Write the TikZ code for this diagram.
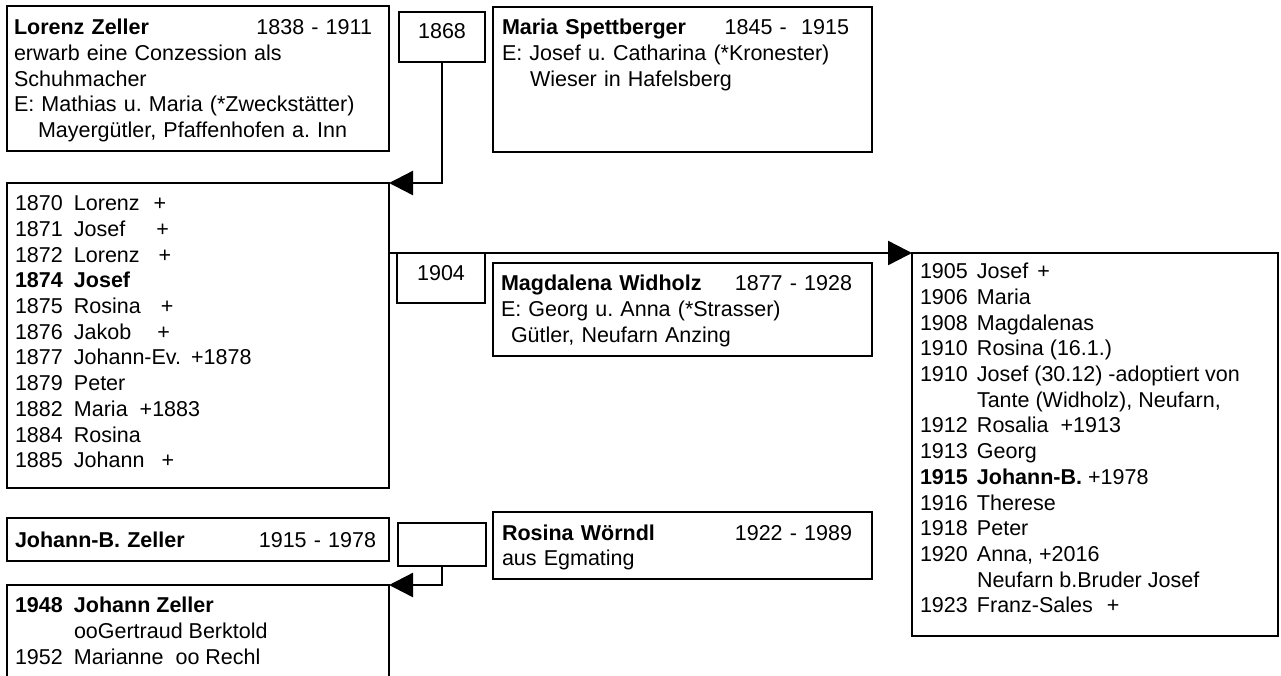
\documentclass[tikz,border=0pt]{standalone}
\usepackage{fontspec}
\setmainfont{Liberation Sans}
\usetikzlibrary{arrows.meta}
\frenchspacing
\newcommand{\yc}[1]{\makebox[59pt][l]{#1}}
\newcommand{\yd}[1]{\makebox[57pt][l]{#1}}
\newcommand{\fst}{\rule{0pt}{17pt}}
\begin{document}
\begin{tikzpicture}[x=1pt,y=-1pt,
  box/.style={draw=black, line width=2.4pt, inner sep=0pt, outer sep=0pt, anchor=north west},
  txt/.style={inner sep=0pt, outer sep=0pt, anchor=north west, align=left, font=\fontsize{21.5}{25.7}\selectfont\frenchspacing},
  yrtxt/.style={inner sep=0pt, outer sep=0pt, anchor=north, font=\fontsize{21.5}{25.7}\selectfont},
  conn/.style={line width=2.4pt, -{Triangle[length=24pt,width=24pt]}},
]
\useasboundingbox (0,0) rectangle (1281,675);
\clip (0,0) rectangle (1281,675);
% boxes
\node[box, minimum width=382, minimum height=145] (A) at (7,6) {};
\node[box, minimum width=86, minimum height=50] (Y1868) at (399,12) {};
\node[box, minimum width=379, minimum height=145] (B) at (493,7) {};
\node[box, minimum width=382, minimum height=305] (C) at (7,183) {};
\node[box, minimum width=88, minimum height=50] (Y1904) at (397,253) {};
\node[box, minimum width=379, minimum height=93] (E) at (493,263) {};
\node[box, minimum width=366, minimum height=383] (D) at (912,253) {};
\node[box, minimum width=382, minimum height=43] (JB) at (7,518) {};
\node[box, minimum width=88, minimum height=43] (Y0) at (398,523) {};
\node[box, minimum width=379, minimum height=67] (R) at (493,512) {};
\node[box, minimum width=382, minimum height=120] (F) at (7,585) {};
% texts
\node[txt, text width=358] (At) at (14,17.7) {\fst\textbf{Lorenz Zeller}\hspace{0pt plus 1filll}1838 - 1911\\
erwarb eine Conzession als\\
Schuhmacher\\
E: Mathias u. Maria (*Zweckstätter)\\
\hspace*{24pt}Mayergütler, Pfaffenhofen a. Inn};
\node[yrtxt] (Y1868t) at (442,21.7) {\fst 1868};
\node[txt, text width=347] (Bt) at (502,17.7) {\fst\textbf{Maria Spettberger}\hspace{0pt plus 1filll}1845 - \ 1915\\
E: Josef u. Catharina (*Kronester)\\
\hspace*{28pt}Wieser in Hafelsberg};
\node[txt] (Ct) at (15,193.7) {\fst\yc{1870}Lorenz\hspace{14pt}+\\
\yc{1871}Josef\hspace{31pt}+\\
\yc{1872}Lorenz\hspace{19pt}+\\
\textbf{\yc{1874}Josef}\\
\yc{1875}Rosina\hspace{20pt}+\\
\yc{1876}Jakob\hspace{26pt}+\\
\yc{1877}Johann-Ev.\hspace{10pt}+1878\\
\yc{1879}Peter\\
\yc{1882}Maria\hspace{12pt}+1883\\
\yc{1884}Rosina\\
\yc{1885}Johann\hspace{17pt}+};
\node[yrtxt] (Y1904t) at (441,263.7) {\fst 1904};
\node[txt, text width=351] (Et) at (501,273.7) {\fst\textbf{Magdalena Widholz}\hspace{0pt plus 1filll}1877 - 1928\\
E: Georg u. Anna (*Strasser)\\
\hspace*{10pt}Gütler, Neufarn Anzing};
\node[txt] (Dt) at (920,261.7) {\fst\yd{1905}Josef\hspace{9pt}+\\
\yd{1906}Maria\\
\yd{1908}Magdalenas\\
\yd{1910}Rosina (16.1.)\\
\yd{1910}Josef (30.12) -adoptiert von\\
\yd{}Tante (Widholz), Neufarn,\\
\yd{1912}Rosalia\hspace{12pt}+1913\\
\yd{1913}Georg\\
\textbf{\yd{1915}Johann-B.} +1978\\
\yd{1916}Therese\\
\yd{1918}Peter\\
\yd{1920}Anna, +2016\\
\yd{}Neufarn b.Bruder Josef\\
\yd{1923}Franz-Sales\hspace{14pt}+};
\node[txt, text width=361] (JBt) at (15,530.7) {\fst\textbf{Johann-B. Zeller}\hspace{0pt plus 1filll}1915 - 1978};
\node[txt, text width=350] (Rt) at (502,523.2) {\fst\textbf{Rosina Wörndl}\hspace{0pt plus 1filll}1922 - 1989\\
aus Egmating};
\node[txt] (Ft) at (15,595.7) {\fst\textbf{\yc{1948}Johann Zeller}\\
\yc{}ooGertraud Berktold\\
\yc{1952}Marianne\hspace{12pt}oo Rechl};
% connectors
\draw[conn] (Y1868.south) |- (C.north east);
\draw[conn] (C.east |- D.north west) -- (D.north west);
\draw[conn] (Y0.south) |- (F.north east);
\end{tikzpicture}
\end{document}
